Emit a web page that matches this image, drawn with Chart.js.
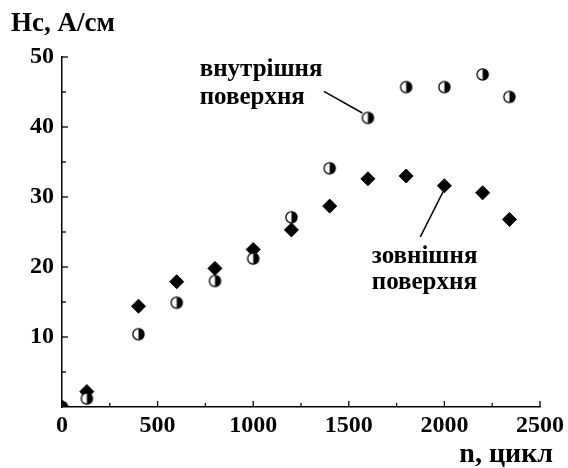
<!DOCTYPE html>
<html><head><meta charset="utf-8">
<script src="https://cdn.jsdelivr.net/npm/chart.js@4/dist/chart.umd.min.js"></script>
<style>html,body{margin:0;padding:0;background:#fff}</style>
</head><body>
<canvas id="c" width="568" height="468"></canvas>
<script>
// ---- data ----
const cycles   = [0, 130, 400, 600, 800, 1000, 1200, 1400, 1600, 1800, 2000, 2200, 2340];
const innerHc  = [0, 1.2, 10.4, 14.9, 18.0, 21.2, 27.1, 34.1, 41.3, 45.7, 45.7, 47.5, 44.3];
const outerHc  = [0, 2.2, 14.4, 17.9, 19.8, 22.5, 25.3, 28.7, 32.6, 33.0, 31.6, 30.6, 26.8];
const xMajorTicks = [0, 500, 1000, 1500, 2000, 2500];
const xMinorTicks = [250, 750, 1250, 1750, 2250];
const yMajorTicks = [10, 20, 30, 40, 50];
const yMinorTicks = [5, 15, 25, 35, 45];
const yTitle = 'Hc, А/см';
const xTitle = 'n, цикл';
const innerLabel = ['внутрішня', 'поверхня'];
const outerLabel = ['зовнішня', 'поверхня'];

const FONT = '"Liberation Serif", "Times New Roman", serif';

// half-filled circle marker
function halfCircle() {
  const s = 15, c = document.createElement('canvas');
  c.width = s; c.height = s;
  const g = c.getContext('2d');
  const r = 5.6, cx = s / 2, cy = s / 2;
  g.fillStyle = '#fff';
  g.beginPath(); g.arc(cx, cy, r, 0, Math.PI * 2); g.fill();
  g.fillStyle = '#000';
  g.beginPath(); g.moveTo(cx, cy - r); g.arc(cx, cy, r, -Math.PI / 2, Math.PI / 2); g.closePath(); g.fill();
  g.strokeStyle = '#000'; g.lineWidth = 1.3;
  g.beginPath(); g.arc(cx, cy, r, 0, Math.PI * 2); g.stroke();
  return c;
}

const pts = (ys) => cycles.map((n, i) => ({x: n, y: ys[i]}));

const decor = {
  id: 'decor',
  afterDraw(chart) {
    const {ctx, scales: {x, y}} = chart;
    ctx.save();
    ctx.strokeStyle = '#000';
    ctx.lineWidth = 1.3;
    const seg = (a, b, c, d) => { ctx.beginPath(); ctx.moveTo(a, b); ctx.lineTo(c, d); ctx.stroke(); };
    const y0 = y.getPixelForValue(0), x0 = x.getPixelForValue(0);
    xMajorTicks.forEach(v => { const p = x.getPixelForValue(v); seg(p, y0, p, y0 - 6); });
    xMinorTicks.forEach(v => { const p = x.getPixelForValue(v); seg(p, y0, p, y0 - 4); });
    yMajorTicks.forEach(v => { const p = y.getPixelForValue(v); seg(x0, p, x0 + 6, p); });
    yMinorTicks.forEach(v => { const p = y.getPixelForValue(v); seg(x0, p, x0 + 4, p); });

    // leader lines
    ctx.lineWidth = 1.5;
    seg(x.getPixelForValue(1370), y.getPixelForValue(45.1), x.getPixelForValue(1571), y.getPixelForValue(42.0));
    seg(x.getPixelForValue(1996), y.getPixelForValue(30.9), x.getPixelForValue(1874), y.getPixelForValue(24.3));

    ctx.fillStyle = '#000';
    ctx.textBaseline = 'alphabetic';
    ctx.textAlign = 'left';
    ctx.font = 'bold 25px ' + FONT;
    ctx.fillText(innerLabel[0], x.getPixelForValue(720), y.getPixelForValue(47.3));
    ctx.fillText(innerLabel[1], x.getPixelForValue(720), y.getPixelForValue(43.3));
    ctx.fillText(outerLabel[0], x.getPixelForValue(1620), y.getPixelForValue(20.6));
    ctx.fillText(outerLabel[1], x.getPixelForValue(1620), y.getPixelForValue(16.8));

    ctx.font = 'bold 27px ' + FONT;
    ctx.fillText(yTitle, 11, 31);
    ctx.textAlign = 'right';
    ctx.font = 'bold 28px ' + FONT;
    ctx.fillText(xTitle, 553, 462);
    ctx.restore();
  }
};

new Chart(document.getElementById('c'), {
  type: 'scatter',
  data: {
    datasets: [
      { label: 'внутрішня поверхня', data: pts(innerHc), pointStyle: halfCircle(), pointRadius: 6, order: 0 },
      { label: 'зовнішня поверхня', data: pts(outerHc), pointStyle: 'rectRot', pointRadius: 7,
        backgroundColor: '#000', borderColor: '#000', borderWidth: 1, order: 1 }
    ]
  },
  options: {
    responsive: false,
    animation: false,
    events: [],
    layout: { padding: { left: 0, top: 57, right: 28, bottom: 0 } },
    plugins: { legend: { display: false }, tooltip: { enabled: false } },
    scales: {
      x: {
        type: 'linear', min: 0, max: 2500,
        afterBuildTicks: (s) => { s.ticks = xMajorTicks.map(v => ({value: v})); },
        afterFit: (s) => { s.height = 61; },
        grid: { display: true, drawOnChartArea: false, drawTicks: false },
        border: { display: true, color: '#000', width: 1.5 },
        ticks: { color: '#000', padding: 4, maxRotation: 0, autoSkip: false,
                 callback: (v) => String(v),
                 font: { family: FONT, size: 24, weight: 'bold' } }
      },
      y: {
        type: 'linear', min: 0, max: 50,
        afterBuildTicks: (s) => { s.ticks = yMajorTicks.map(v => ({value: v})); },
        afterFit: (s) => { s.width = 62; },
        grid: { display: true, drawOnChartArea: false, drawTicks: false },
        border: { display: true, color: '#000', width: 1.5 },
        ticks: { color: '#000', padding: 8, autoSkip: false,
                 callback: (v) => String(v),
                 font: { family: FONT, size: 24, weight: 'bold' } }
      }
    }
  },
  plugins: [decor]
});
</script>
</body></html>
